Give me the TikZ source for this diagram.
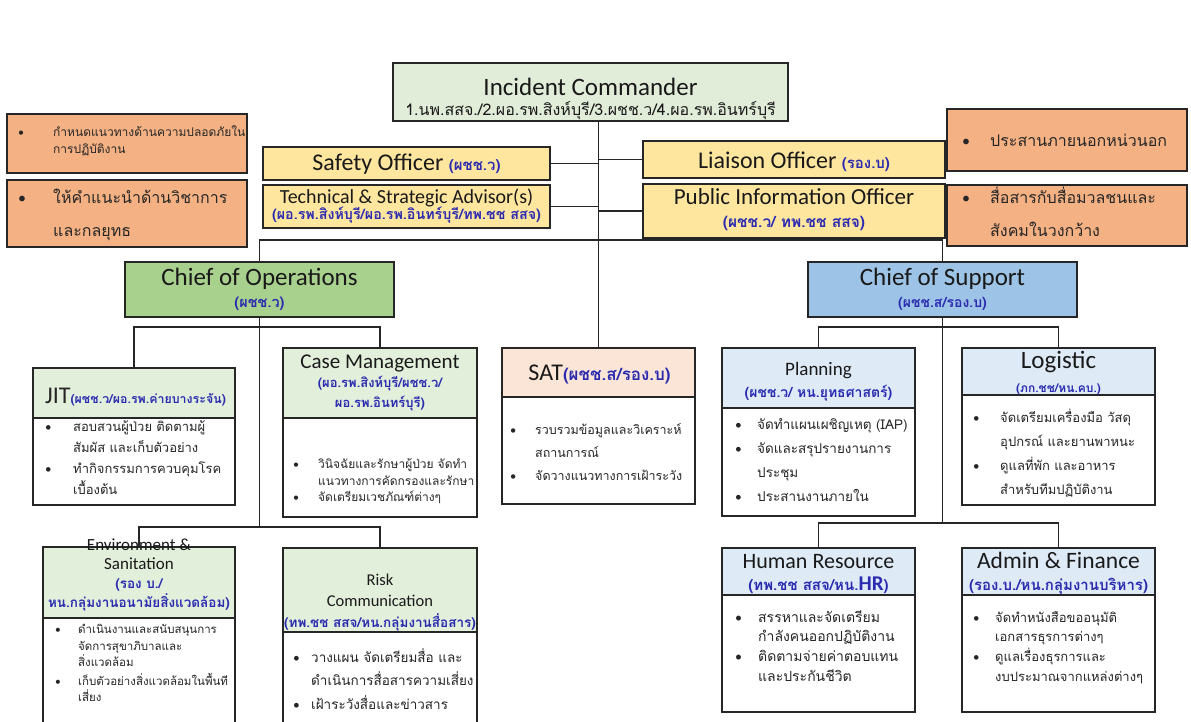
\documentclass[tikz,border=0pt]{standalone}
\usepackage{fontspec}
\setmainfont{Carlito}
\newfontfamily\thai[Script=Thai]{Loma}
\definecolor{icg}{HTML}{E2EDD9}
\definecolor{yel}{HTML}{FFE69F}
\definecolor{ora}{HTML}{F4B183}
\definecolor{opsg}{HTML}{A9D18E}
\definecolor{supb}{HTML}{9DC3E6}
\definecolor{hdg}{HTML}{E2EFDA}
\definecolor{hdb}{HTML}{DEEBF7}
\definecolor{satc}{HTML}{FBE5D6}
\definecolor{tblue}{HTML}{2B2BB0}
\newcommand{\ctext}[2]{\vtop{\baselineskip=#1\lineskiplimit=-\maxdimen\lineskip=0pt\halign{\hfil##\hfil\cr#2\crcr}}}
\newcommand{\btext}[3]{\vtop{\baselineskip=#1\lineskiplimit=-\maxdimen\lineskip=0pt\halign{\hbox to #2{##\hfil}&##\hfil\cr#3\crcr}}}
\newcommand{\bul}{{\rmfamily\textbullet}}
\newcommand{\tb}[2]{{\thai\bfseries\fontsize{#1}{#1}\selectfont\color{tblue}#2}}
\newcommand{\en}[2]{{\rmfamily\fontsize{#1}{#1}\selectfont #2}}
\newcommand{\gap}[1]{\noalign{\vskip#1}}
\newcommand{\thsz}[1]{\thai\fontsize{#1}{#1}\selectfont}
\tikzset{
  bx/.style={draw=black!85, line width=1.4pt, inner sep=0pt, outer sep=0pt, anchor=north west},
  tx/.style={inner sep=0pt, anchor=base, text=black!90},
  tl/.style={inner sep=0pt, anchor=base west, text=black!85},
  ln/.style={line width=1.1pt, draw=black!85}
}
\begin{document}
\begin{tikzpicture}[x=1pt,y=-1pt]
\useasboundingbox (0,0) rectangle (1191,721);
\fill[white] (0,0) rectangle (1191,721);
\clip (0,0) rectangle (1191,721);
\coordinate (h1) at (0,240);
\coordinate (h2) at (0,327);
\coordinate (h3) at (0,527);
\coordinate (h3r) at (0,523);

% ---------- boxes ----------
\node[bx, fill=icg, minimum width=395pt, minimum height=58pt] (ic) at (393,63) {};
\node[bx, fill=yel, minimum width=287pt, minimum height=33pt] (safety) at (263,147) {};
\node[bx, fill=yel, minimum width=287pt, minimum height=43pt] (tech) at (263,185) {};
\node[bx, fill=yel, minimum width=302pt, minimum height=37pt] (liaison) at (643,141) {};
\node[bx, fill=yel, minimum width=302pt, minimum height=54pt] (public) at (643,184) {};
\node[bx, fill=ora, minimum width=240pt, minimum height=59pt] (ol1) at (7,114) {};
\node[bx, fill=ora, minimum width=240pt, minimum height=67pt] (ol2) at (7,180) {};
\node[bx, fill=ora, minimum width=240pt, minimum height=62pt] (or1) at (947,109) {};
\node[bx, fill=ora, minimum width=240pt, minimum height=61pt] (or2) at (947,185) {};
\node[bx, fill=opsg, minimum width=269pt, minimum height=55pt] (ops) at (125,262) {};
\node[bx, fill=supb, minimum width=269pt, minimum height=55pt] (sup) at (808,262) {};

\node[bx, fill=hdg, minimum width=202pt, minimum height=50pt] (jith) at (33,368) {};
\node[bx, fill=white, minimum width=202pt, minimum height=87pt] (jitb) at (33,418) {};
\node[bx, fill=hdg, minimum width=194pt, minimum height=70pt] (caseh) at (283,348) {};
\node[bx, fill=white, minimum width=194pt, minimum height=99pt] (caseb) at (283,418) {};
\node[bx, fill=satc, minimum width=193pt, minimum height=49pt] (sath) at (502,348) {};
\node[bx, fill=white, minimum width=193pt, minimum height=107pt] (satb) at (502,397) {};
\node[bx, fill=hdb, minimum width=193pt, minimum height=60pt] (planh) at (722,348) {};
\node[bx, fill=white, minimum width=193pt, minimum height=108pt] (planb) at (722,408) {};
\node[bx, fill=hdb, minimum width=193pt, minimum height=47pt] (logh) at (962,348) {};
\node[bx, fill=white, minimum width=193pt, minimum height=110pt] (logb) at (962,395) {};
\node[bx, fill=hdb, minimum width=193pt, minimum height=47pt] (hrh) at (722,548) {};
\node[bx, fill=white, minimum width=193pt, minimum height=117pt] (hrb) at (722,595) {};
\node[bx, fill=hdb, minimum width=193pt, minimum height=47pt] (admh) at (962,548) {};
\node[bx, fill=white, minimum width=193pt, minimum height=117pt] (admb) at (962,595) {};
\node[bx, fill=hdg, minimum width=192pt, minimum height=71pt] (envh) at (43,547) {};
\node[bx, fill=white, minimum width=192pt, minimum height=120pt] (envb) at (43,618) {};
\node[bx, fill=hdg, minimum width=194pt, minimum height=84pt] (riskh) at (283,548) {};
\node[bx, fill=white, minimum width=194pt, minimum height=110pt] (riskb) at (283,632) {};

% ---------- connectors ----------
\draw[ln] (ic.south -| sath.north) -- (sath.north);
\draw[ln] (safety.east) -- (safety.east -| sath.north);
\draw[ln] (tech.east) -- (tech.east -| sath.north);
\draw[ln] (liaison.west) -- (liaison.west -| sath.north);
\draw[ln] (public.west) -- (public.west -| sath.north);
\draw[ln] (ops.north) -- (ops.north |- h1) -- (sup.north |- h1) -- (sup.north);
\draw[ln] (ops.south) -- (ops.south |- h3);
\draw[ln] (jith.north) -- (jith.north |- h2) -- (caseh.north |- h2) -- (caseh.north);
\draw[ln] (envh.north) -- (envh.north |- h3) -- (riskh.north |- h3) -- (riskh.north);
\draw[ln] (sup.south) -- (sup.south |- h3r);
\draw[ln] (planh.north) -- (planh.north |- h2) -- (logh.north |- h2) -- (logh.north);
\draw[ln] (hrh.north) -- (hrh.north |- h3r) -- (admh.north |- h3r) -- (admh.north);

% ---------- texts ----------
\node[tx] (ict) at (590.5,95) {\ctext{20pt}{\en{25}{Incident Commander}\cr{\thsz{16}1.นพ.สสจ./2.ผอ.รพ.สิงห์บุรี/3.ผชช.ว/4.ผอ.รพ.อินทร์บุรี}\cr}};
\node[tx] (sft) at (406.5,170.5) {\en{24}{Safety Officer }\tb{15}{(ผชช.ว)}};
\node[tx] (tect) at (406.5,203) {\ctext{16pt}{\en{20}{Technical \& Strategic Advisor(s)}\cr\tb{14.3}{(ผอ.รพ.สิงห์บุรี/ผอ.รพ.อินทร์บุรี/ทพ.ชช สสจ)}\cr}};
\node[tx] (lit) at (794,168.5) {\en{24}{Liaison Officer }\tb{15}{(รอง.บ)}};
\node[tx] (pubt) at (794,204) {\ctext{23pt}{\en{23}{Public Information Officer}\cr\tb{15.5}{(ผชช.ว/ ทพ.ชช สสจ)}\cr}};

\node[tl] (ol1t) at (18,136) {\thsz{12}\btext{17pt}{35pt}{\bul&กำหนดแนวทางด้านความปลอดภัยใน\cr&การปฏิบัติงาน\cr}};
\node[tl] (ol2t) at (18,203) {\thsz{16}\btext{33pt}{35pt}{\bul&ให้คำแนะนำด้านวิชาการ\cr&และกลยุทธ\cr}};
\node[tl] (or1t) at (962,146) {\thsz{16}\btext{33pt}{28pt}{\bul&ประสานภายนอกหน่วนอก\cr}};
\node[tl] (or2t) at (962,203) {\thsz{16}\btext{33pt}{28pt}{\bul&สื่อสารกับสื่อมวลชนและ\cr&สังคมในวงกว้าง\cr}};

\node[tx] (opst) at (259.5,285) {\ctext{22pt}{\en{25}{Chief of Operations}\cr\tb{14.5}{(ผชช.ว)}\cr}};
\node[tx] (supt) at (942.5,285) {\ctext{22pt}{\en{25}{Chief of Support}\cr\tb{14}{(ผชช.ส/รอง.บ)}\cr}};

\node[tl] (jitht) at (45,403) {\en{24}{JIT}\tb{12.4}{(ผชช.ว/ผอ.รพ.ค่ายบางระจัน)}};
\node[tl] (jitbt) at (45,431) {\thsz{13}\btext{21pt}{28pt}{\bul&สอบสวนผู้ป่วย ติดตามผู้\cr&สัมผัส และเก็บตัวอย่าง\cr\bul&ทำกิจกรรมการควบคุมโรค\cr&เบื้องต้น\cr}};

\node[tx] (caseht) at (380,368) {\ctext{19.5pt}{\en{21}{Case Management}\cr\tb{13}{(ผอ.รพ.สิงห์บุรี/ผชช.ว/}\cr\tb{13}{ผอ.รพ.อินทร์บุรี)}\cr}};
\node[tl] (casebt) at (293,468.5) {\thsz{12}\btext{16.5pt}{25pt}{\bul&วินิจฉัยและรักษาผู้ป่วย จัดทำ\cr&แนวทางการคัดกรองและรักษา\cr\bul&จัดเตรียมเวชภัณฑ์ต่างๆ\cr}};

\node[tx] (satht) at (599.5,380) {\en{24}{SAT}\tb{17}{(ผชช.ส/รอง.บ)}};
\node[tl] (satbt) at (510,434.5) {\thsz{12.5}\btext{23pt}{25pt}{\bul&รวบรวมข้อมูลและวิเคราะห์\cr&สถานการณ์\cr\bul&จัดวางแนวทางการเฝ้าระวัง\cr}};

\node[tx] (planht) at (818.5,375) {\ctext{22pt}{\en{19}{Planning}\cr\tb{14}{(ผชช.ว/ หน.ยุทธศาสตร์)}\cr}};
\node[tl] (planbt) at (735,429) {\thsz{13.5}\btext{24pt}{22pt}{\bul&จัดทำแผนเผชิญเหตุ (IAP)\cr\bul&จัดและสรุปรายงานการ\cr&ประชุม\cr\bul&ประสานงานภายใน\cr}};

\node[tx] (loght) at (1058.5,368) {\ctext{24pt}{\en{25}{Logistic}\cr\tb{12}{(ภก.ชช/หน.คบ.)}\cr}};
\node[tl] (logbt) at (973,422) {\thsz{13}\btext{24pt}{27pt}{\bul&จัดเตรียมเครื่องมือ วัสดุ\cr&อุปกรณ์ และยานพาหนะ\cr\bul&ดูแลที่พัก และอาหาร\cr&สำหรับทีมปฏิบัติงาน\cr}};

\node[tx] (hrht) at (818.5,568) {\ctext{22pt}{\en{22}{Human Resource}\cr\tb{15}{(ทพ.ชช สสจ/หน.}{\rmfamily\bfseries\fontsize{21}{21}\selectfont\color{tblue}HR}\tb{15}{)}\cr}};
\node[tl] (hrbt) at (735,622) {\thsz{14}\btext{19.7pt}{23pt}{\bul&สรรหาและจัดเตรียม\cr&กำลังคนออกปฏิบัติงาน\cr\bul&ติดตามจ่ายค่าตอบแทน\cr&และประกันชีวิต\cr}};

\node[tx] (admht) at (1058.5,568) {\ctext{22pt}{\en{23.5}{Admin \& Finance}\cr\tb{15}{(รอง.บ./หน.กลุ่มงานบริหาร)}\cr}};
\node[tl] (admbt) at (973,622) {\thsz{13}\btext{19.7pt}{22pt}{\bul&จัดทำหนังสือขออนุมัติ\cr&เอกสารธุรการต่างๆ\cr\bul&ดูแลเรื่องธุรการและ\cr&งบประมาณจากแหล่งต่างๆ\cr}};

\node[tx] (envht) at (139,550) {\ctext{19pt}{\en{17}{Environment \&}\cr\en{17}{Sanitation}\cr\tb{13.5}{(รอง บ./}\cr\tb{13.5}{หน.กลุ่มงานอนามัยสิ่งแวดล้อม)}\cr}};
\node[tl] (envbt) at (55,633.5) {\thsz{11.5}\btext{16.5pt}{23pt}{\bul&ดำเนินงานและสนับสนุนการ\cr&จัดการสุขาภิบาลและ\cr&สิ่งแวดล้อม\cr\gap{2pt}\bul&เก็บตัวอย่างสิ่งแวดล้อมในพื้นที\cr&เสี่ยง\cr}};

\node[tx] (riskht) at (380,585.5) {\ctext{21pt}{\en{16.5}{Risk}\cr\en{16.5}{Communication}\cr\tb{13.5}{(ทพ.ชช สสจ/หน.กลุ่มงานสื่อสาร)}\cr}};
\node[tl] (riskbt) at (293,662) {\thsz{13.5}\btext{23.5pt}{18pt}{\bul&วางแผน จัดเตรียมสื่อ และ\cr&ดำเนินการสื่อสารความเสี่ยง\cr\bul&เฝ้าระวังสื่อและข่าวสาร\cr}};
\end{tikzpicture}
\end{document}
